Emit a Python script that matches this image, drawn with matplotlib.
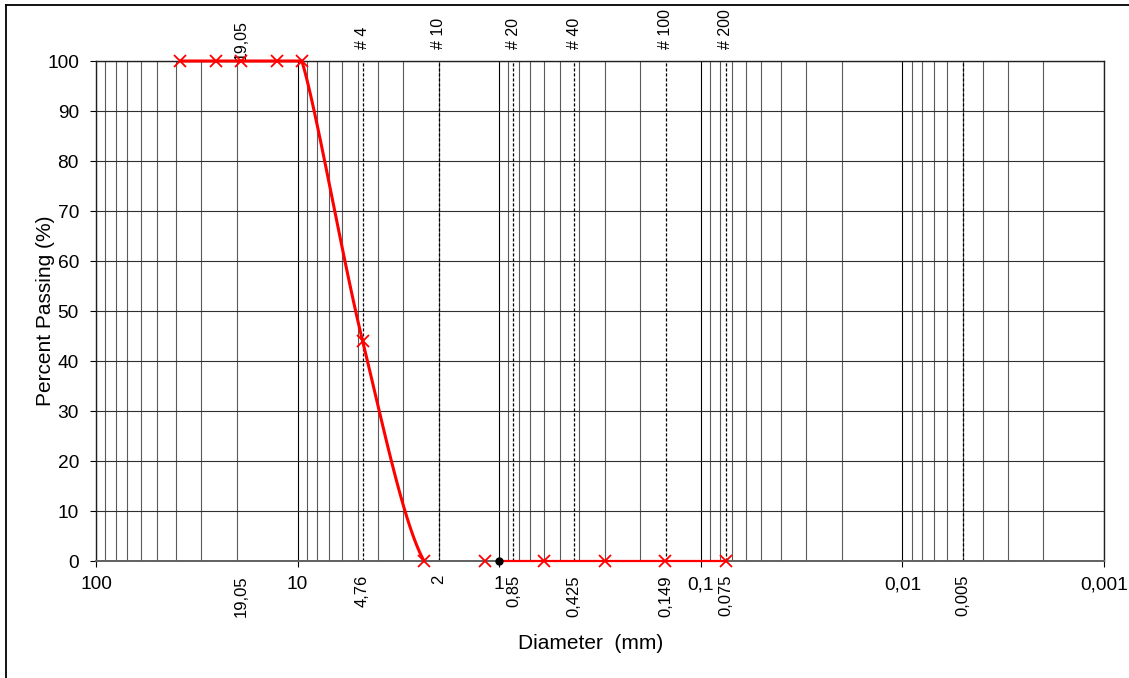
import numpy as np
import matplotlib
matplotlib.use("Agg")
import matplotlib.pyplot as plt
from matplotlib.lines import Line2D
from matplotlib.transforms import blended_transform_factory, offset_copy

plt.rcParams['font.family'] = ['Liberation Sans', 'DejaVu Sans']

# --- datos ---
coarse_d = [38.1, 25.4, 19.05, 12.7, 9.525, 4.76, 2.36]
coarse_p = [100, 100, 100, 100, 100, 44, 0]
fine_d = [1.18, 0.6, 0.3, 0.15, 0.075]
fine_p = [0, 0, 0, 0, 0]
dot_d = [1.0]
dot_p = [0]

sieve_d = [4.76, 2.0, 0.85, 0.425, 0.149, 0.075, 0.005]
top_labels = ["19,05", "# 4", "# 10", "# 20", "# 40", "# 100", "# 200"]
top_pos = [19.05, 4.76, 2.0, 0.85, 0.425, 0.149, 0.075]
bottom_labels = ["19,05", "4,76", "2", "0,85", "0,425", "0,149", "0,075", "0,005"]
bottom_pos = [19.05, 4.76, 2.0, 0.85, 0.425, 0.149, 0.075, 0.005]
major_ticks = [100, 10, 1, 0.1, 0.01, 0.001]
major_labels = ["100", "10", "1", "0,1", "0,01", "0,001"]

fig = plt.figure(figsize=(11.29, 6.78), dpi=100)
ax = fig.add_axes([96 / 1129, 1 - 561 / 678, (1104 - 96) / 1129, 500 / 678])
ax.set_xscale('log')
ax.set_xlim(100, 0.001)
ax.set_ylim(0, 100)

# rejilla vertical (log) y horizontal
for dec in [10, 1, 0.1, 0.01, 0.001]:
    for k in range(2, 10):
        ax.axvline(dec * k, color='#5a5a5a', lw=0.8, zorder=1)
for m in major_ticks:
    ax.axvline(m, color='black', lw=0.8, zorder=1)
for yv in range(10, 101, 10):
    ax.axhline(yv, color='#303030', lw=0.8, zorder=1)

# lineas de tamices
for d in sieve_d:
    ax.axvline(d, color='black', lw=0.9, ls=(0, (2.5, 1.5)), zorder=2)

# curva suavizada (Bezier tipo Catmull-Rom en espacio log-x)
u = np.log10(coarse_d)
yy = np.array(coarse_p, dtype=float)
sx, sy = 201.6, 5.0  # escala para suavizar en px
pts = np.column_stack([u * sx, yy * sy])
curve = [pts[0]]
for i in range(len(pts) - 1):
    p1, p2 = pts[i], pts[i + 1]
    if yy[i] == yy[i + 1] == 100:
        curve.append(p2)
        continue
    p0 = pts[i - 1]
    p3 = pts[i + 2] if i + 2 < len(pts) else np.array([np.log10(fine_d[0]) * sx, 0.0])
    c1 = p1 + (p2 - p0) / 6
    c2 = p2 - (p3 - p1) / 6
    t = np.linspace(0, 1, 40)[1:, None]
    b = (1 - t) ** 3 * p1 + 3 * (1 - t) ** 2 * t * c1 + 3 * (1 - t) * t ** 2 * c2 + t ** 3 * p2
    curve.extend(b)
curve = np.array(curve)
ax.plot(10 ** (curve[:, 0] / sx), curve[:, 1] / sy, color='red', lw=2.2, zorder=4,
        solid_capstyle='round', clip_on=False)
ax.plot(coarse_d, coarse_p, ls='none', marker='x', color='red', ms=8, mew=1.3,
        zorder=5, clip_on=False)

ax.plot(dot_d + fine_d[1:], dot_p + fine_p[1:], color='red', lw=1.6, zorder=4, clip_on=False)
ax.plot(fine_d, fine_p, ls='none', marker='x', color='red', ms=8, mew=1.3,
        zorder=5, clip_on=False)
ax.plot(dot_d, dot_p, ls='none', marker='o', color='black', ms=5, zorder=6, clip_on=False)

# ejes
ax.set_xticks(major_ticks)
ax.set_xticklabels(major_labels)
ax.xaxis.set_minor_locator(plt.NullLocator())
ax.set_yticks(range(0, 101, 10))
ax.tick_params(axis='x', direction='out', length=4, width=0.8, pad=7, labelsize=13.8)
ax.tick_params(axis='y', direction='out', length=4.3, width=0.8, pad=8, labelsize=13.8)
for s in ax.spines.values():
    s.set_color('#202020')
    s.set_linewidth(1.0)
ax.spines['bottom'].set_color('#606060')
ax.spines['bottom'].set_linewidth(1.4)

trans = blended_transform_factory(ax.transData, ax.transAxes)
for lab, d in zip(top_labels, top_pos):
    off = 1 if lab == "19,05" else 12
    ax.text(d, 1, lab, transform=offset_copy(trans, fig=fig, y=off, units='dots'),
            rotation=90, ha='center', va='bottom', fontsize=11.5)
for lab, d in zip(bottom_labels, bottom_pos):
    ax.text(d, 0, lab, transform=offset_copy(trans, fig=fig, y=-14, units='dots'),
            rotation=90, ha='center', va='top', fontsize=12)

ax.set_xlabel('Diameter  (mm)', fontsize=15, labelpad=29)
ax.xaxis.label.set_x((591 - 96) / 1008)
ax.set_ylabel('Percent Passing (%)', fontsize=15, labelpad=-6)

# marco exterior
fig.add_artist(Line2D([6 / 1129, 1], [1 - 5 / 678, 1 - 5 / 678], color='black', lw=1.3,
                      transform=fig.transFigure))
fig.add_artist(Line2D([6 / 1129, 6 / 1129], [0, 1 - 5 / 678], color='black', lw=1.3,
                      transform=fig.transFigure))

fig.savefig('out.png', dpi=100)
